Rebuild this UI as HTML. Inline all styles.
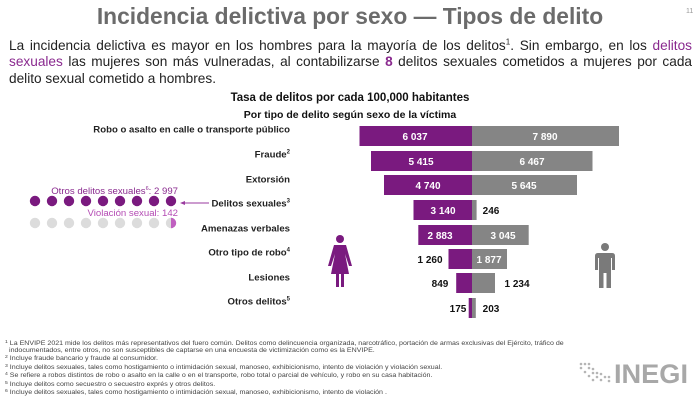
<!DOCTYPE html>
<html><head><meta charset="utf-8"><style>
body{margin:0;width:700px;height:401px;overflow:hidden;background:#fff;font-family:"Liberation Sans",sans-serif;position:relative}
.a{position:absolute;white-space:nowrap}
.t{left:0;width:700px;text-align:center;top:3px;font-size:22.8px;font-weight:bold;color:#6b6b6b}
.p{left:9px;width:683px;top:38px;font-size:13.65px;line-height:16.3px;color:#222;white-space:normal;text-align:justify}
.pu{color:#8a2a8f}
.lab{right:410px;font-size:9.6px;font-weight:bold;color:#222;transform:translateY(-50%)}
.fn{left:5px;font-size:6.3px;line-height:7px;color:#444;transform:scaleX(1.12);transform-origin:0 0}
.fn sup{font-size:4.5px;line-height:0;vertical-align:2px}
</style></head><body>
<div class="a t">Incidencia delictiva por sexo — Tipos de delito</div>
<div class="a" style="left:686px;top:8px;font-size:7px;color:#999">11</div>
<div class="a p">La incidencia delictiva es mayor en los hombres para la mayoría de los delitos<sup style="font-size:8px;line-height:0">1</sup>. Sin embargo, en los <span class="pu">delitos sexuales</span> las mujeres son más vulneradas, al contabilizarse <b class="pu">8</b> delitos sexuales cometidos a mujeres por cada delito sexual cometido a hombres.</div>
<div class="a" style="left:0;width:700px;text-align:center;top:92px;font-size:11.5px;font-weight:bold;color:#111">Tasa de delitos por cada 100,000 habitantes</div>
<div class="a" style="left:0;width:700px;text-align:center;top:109px;font-size:10.5px;font-weight:bold;color:#111">Por tipo de delito según sexo de la víctima</div>

<div class="a lab" style="top:130px">Robo o asalto en calle o transporte público</div>
<div class="a lab" style="top:155px">Fraude<sup style="font-size:6px">2</sup></div>
<div class="a lab" style="top:180px">Extorsión</div>
<div class="a lab" style="top:204px">Delitos sexuales<sup style="font-size:6px">3</sup></div>
<div class="a lab" style="top:229px">Amenazas verbales</div>
<div class="a lab" style="top:253px">Otro tipo de robo<sup style="font-size:6px">4</sup></div>
<div class="a lab" style="top:278px">Lesiones</div>
<div class="a lab" style="top:302px">Otros delitos<sup style="font-size:6px">5</sup></div>

<svg class="a" style="left:0;top:0" width="700" height="401">
<g font-family="Liberation Sans" font-size="10" font-weight="bold" text-anchor="middle">
<rect x="359.5" y="126" width="112.5" height="20" fill="#7a1a7f"/><rect x="472" y="126" width="147" height="20" fill="#858585"/>
<text x="415" y="140" fill="#fff">6 037</text><text x="545" y="140" fill="#fff">7 890</text>
<rect x="371" y="151" width="101" height="20" fill="#7a1a7f"/><rect x="472" y="151" width="120.5" height="20" fill="#858585"/>
<text x="421" y="165" fill="#fff">5 415</text><text x="532" y="165" fill="#fff">6 467</text>
<rect x="384" y="175" width="88" height="20" fill="#7a1a7f"/><rect x="472" y="175" width="105" height="20" fill="#858585"/>
<text x="428" y="189" fill="#fff">4 740</text><text x="524" y="189" fill="#fff">5 645</text>
<rect x="413.5" y="200" width="58.5" height="20" fill="#7a1a7f"/><rect x="472" y="200" width="4.6" height="20" fill="#858585"/>
<text x="443" y="214" fill="#fff">3 140</text><text x="491" y="214" fill="#111">246</text>
<rect x="418.3" y="225" width="53.7" height="20" fill="#7a1a7f"/><rect x="472" y="225" width="56.7" height="20" fill="#858585"/>
<text x="440" y="239" fill="#fff">2 883</text><text x="503" y="239" fill="#fff">3 045</text>
<rect x="448.5" y="249" width="23.5" height="20" fill="#7a1a7f"/><rect x="472" y="249" width="35" height="20" fill="#858585"/>
<text x="430" y="263" fill="#111">1 260</text><text x="489" y="263" fill="#fff">1 877</text>
<rect x="456.2" y="273" width="15.8" height="20" fill="#7a1a7f"/><rect x="472" y="273" width="23" height="20" fill="#858585"/>
<text x="440" y="287" fill="#111">849</text><text x="517" y="287" fill="#111">1 234</text>
<rect x="468.7" y="298" width="3.3" height="20" fill="#7a1a7f"/><rect x="472" y="298" width="3.8" height="20" fill="#858585"/>
<text x="458" y="312" fill="#111">175</text><text x="491" y="312" fill="#111">203</text>
</g>
<g fill="#7a1a7f"><circle cx="340" cy="239" r="4"/><path d="M334 245 H346 L352 266 H349 L345 254 L349 274 H344 V287 H341 V274 H339 V287 H336 V274 H331 L335 254 L331 266 H328 Z"/></g>
<g fill="#7a7a7a"><circle cx="605" cy="247" r="4"/><path d="M598 253 H612 Q615 253 615 256 V270 H612 V258 H611 V288 H606.5 V273 H603.5 V288 H599 V258 H598 V270 H595 V256 Q595 253 598 253 Z"/></g>
<g fill="#7a1a7f"><circle cx="35" cy="201" r="5.2"/><circle cx="52" cy="201" r="5.2"/><circle cx="69" cy="201" r="5.2"/><circle cx="86" cy="201" r="5.2"/><circle cx="103" cy="201" r="5.2"/><circle cx="120" cy="201" r="5.2"/><circle cx="137" cy="201" r="5.2"/><circle cx="154" cy="201" r="5.2"/><circle cx="171" cy="201" r="5.2"/></g>
<g fill="#dcdcdc"><circle cx="35" cy="223" r="5.2"/><circle cx="52" cy="223" r="5.2"/><circle cx="69" cy="223" r="5.2"/><circle cx="86" cy="223" r="5.2"/><circle cx="103" cy="223" r="5.2"/><circle cx="120" cy="223" r="5.2"/><circle cx="137" cy="223" r="5.2"/><circle cx="154" cy="223" r="5.2"/><circle cx="171" cy="223" r="5.2"/></g>
<path d="M171 217.8 A5.2 5.2 0 0 1 171 228.2 Z" fill="#c060c0"/>
<line x1="183" y1="203" x2="209" y2="203" stroke="#9a3a9f" stroke-width="1"/><path d="M180 203 L185 201 L185 205 Z" fill="#9a3a9f"/>
<text x="178" y="194" text-anchor="end" font-family="Liberation Sans" font-size="9.6" fill="#8a2a8f">Otros delitos sexuales<tspan font-size="5.5" dy="-4">6</tspan><tspan dy="4">:  2 997</tspan></text>
<text x="178" y="216" text-anchor="end" font-family="Liberation Sans" font-size="9.6" fill="#b44cb4">Violación sexual: 142</text>
<g fill="#b5b5b5"><circle cx="581" cy="364" r="1.3"/><circle cx="585" cy="364" r="1.3"/><circle cx="589" cy="364" r="1.3"/><circle cx="581" cy="368" r="1.3"/><circle cx="589" cy="368" r="1.3"/><circle cx="593" cy="369" r="1.3"/><circle cx="585" cy="372" r="1.3"/><circle cx="593" cy="373" r="1.3"/><circle cx="597" cy="373" r="1.3"/><circle cx="601" cy="374" r="1.3"/><circle cx="589" cy="376" r="1.3"/><circle cx="597" cy="377" r="1.3"/><circle cx="605" cy="377" r="1.3"/><circle cx="609" cy="377" r="1.3"/><circle cx="601" cy="380" r="1.3"/><circle cx="609" cy="381" r="1.3"/><circle cx="593" cy="380" r="1.3"/></g>
<text x="614" y="383" font-family="Liberation Sans" font-weight="bold" font-size="27" fill="#a8a8a8" textLength="74" lengthAdjust="spacingAndGlyphs">INEGI</text>
</svg>

<div class="a fn" style="top:340px"><sup>1</sup> La ENVIPE 2021 mide los delitos más representativos del fuero común. Delitos como delincuencia organizada, narcotráfico, portación de armas exclusivas del Ejército, tráfico de</div>
<div class="a fn" style="top:347px;left:9px">indocumentados, entre otros, no son susceptibles de captarse en una encuesta de victimización como es la ENVIPE.</div>
<div class="a fn" style="top:355px"><sup>2</sup> Incluye fraude bancario y fraude al consumidor.</div>
<div class="a fn" style="top:364px"><sup>3</sup> Incluye delitos sexuales, tales como hostigamiento o intimidación sexual, manoseo, exhibicionismo, intento de violación y violación sexual.</div>
<div class="a fn" style="top:372px"><sup>4</sup> Se refiere a robos distintos de robo o asalto en la calle o en el transporte, robo total o parcial de vehículo, y robo en su casa habitación.</div>
<div class="a fn" style="top:381px"><sup>5</sup> Incluye delitos como secuestro o secuestro exprés y otros delitos.</div>
<div class="a fn" style="top:389px"><sup>6</sup> Incluye delitos sexuales, tales como hostigamiento o intimidación sexual, manoseo, exhibicionismo, intento de violación .</div>
</body></html>
